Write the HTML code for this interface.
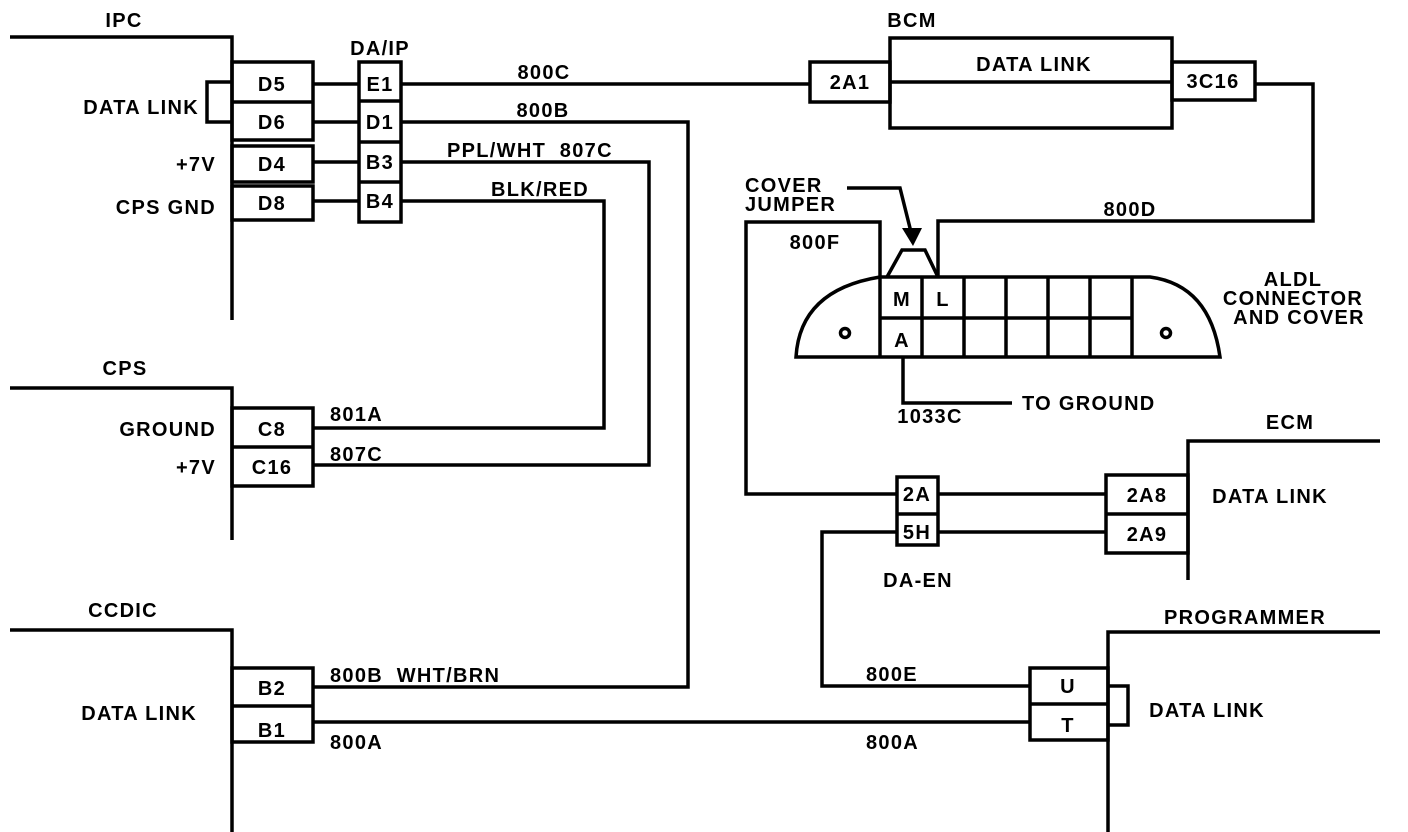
<!DOCTYPE html>
<html><head><style>
html,body{margin:0;padding:0;background:#fff;}
svg{display:block;}
text{font-family:"Liberation Sans",Arial,sans-serif;font-weight:bold;font-size:20px;letter-spacing:1.3px;fill:#000;}
.e{text-anchor:end;}
.m{text-anchor:middle;}
</style></head><body>
<svg width="1408" height="832" viewBox="0 0 1408 832" xmlns="http://www.w3.org/2000/svg">
<g fill="none" stroke="#000" stroke-width="3.5">
<polyline points="10,37 232,37 232,320"/>
<rect x="232" y="62" width="81" height="78"/>
<line x1="232" y1="102" x2="313" y2="102"/>
<rect x="232" y="146" width="81" height="36"/>
<rect x="232" y="186" width="81" height="34"/>
<polyline points="232,82 207,82 207,122 232,122"/>
<rect x="359" y="62" width="42" height="160"/>
<line x1="359" y1="101" x2="401" y2="101"/>
<line x1="359" y1="142" x2="401" y2="142"/>
<line x1="359" y1="182" x2="401" y2="182"/>
<line x1="313" y1="84" x2="359" y2="84"/>
<line x1="313" y1="122" x2="359" y2="122"/>
<line x1="313" y1="162" x2="359" y2="162"/>
<line x1="313" y1="201" x2="359" y2="201"/>
<line x1="401" y1="84" x2="810" y2="84"/>
<polyline points="401,122 688,122 688,687 313,687"/>
<polyline points="401,162 649,162 649,465 313,465"/>
<polyline points="401,201 604,201 604,428 313,428"/>
<polyline points="10,388 232,388 232,540"/>
<rect x="232" y="408" width="81" height="78"/>
<line x1="232" y1="447" x2="313" y2="447"/>
<polyline points="10,630 232,630 232,832"/>
<rect x="232" y="668" width="81" height="74"/>
<line x1="232" y1="706" x2="313" y2="706"/>
<line x1="313" y1="722" x2="1030" y2="722"/>
<rect x="890" y="38" width="282" height="90"/>
<rect x="810" y="62" width="80" height="40"/>
<rect x="1172" y="62" width="83" height="38"/>
<line x1="890" y1="82" x2="1172" y2="82"/>
<polyline points="1255,84 1313,84 1313,221 938,221 938,277"/>
<path d="M796,357 Q800,290 880,277 L1150,277 Q1210,285 1220,357 Z"/>
<line x1="880" y1="277" x2="880" y2="357"/>
<line x1="922" y1="277" x2="922" y2="357"/>
<line x1="964" y1="277" x2="964" y2="357"/>
<line x1="1006" y1="277" x2="1006" y2="357"/>
<line x1="1048" y1="277" x2="1048" y2="357"/>
<line x1="1090" y1="277" x2="1090" y2="357"/>
<line x1="1132" y1="277" x2="1132" y2="357"/>
<line x1="880" y1="318" x2="1132" y2="318"/>
<circle cx="845" cy="333" r="4.5"/>
<circle cx="1166" cy="333" r="4.5"/>
<polyline points="887,277 902,250 925,250 938,277"/>
<polyline points="847,188 900,188 912,236"/>
<polyline points="880,277 880,222 746,222 746,494 897,494"/>
<polyline points="903,357 903,403 1012,403"/>
<rect x="897" y="477" width="41" height="68"/>
<line x1="897" y1="514" x2="938" y2="514"/>
<line x1="938" y1="494" x2="1106" y2="494"/>
<line x1="938" y1="532" x2="1106" y2="532"/>
<polyline points="897,532 822,532 822,686 1030,686"/>
<polyline points="1380,441 1188,441 1188,580"/>
<rect x="1106" y="475" width="82" height="78"/>
<line x1="1106" y1="514" x2="1188" y2="514"/>
<polyline points="1380,632 1108,632 1108,832"/>
<rect x="1030" y="668" width="78" height="72"/>
<line x1="1030" y1="704" x2="1108" y2="704"/>
<polyline points="1108,686 1128,686 1128,725 1108,725"/>
</g>
<polygon points="902,228 922,228 913,246" fill="#000"/>
<text x="124" y="27" class="m">IPC</text>
<text x="380" y="55" class="m" font-size="18">DA/IP</text>
<text x="199" y="114" class="e">DATA LINK</text>
<text x="216" y="171" class="e">+7V</text>
<text x="216" y="214" class="e">CPS GND</text>
<text x="272" y="91" class="m">D5</text>
<text x="272" y="129" class="m">D6</text>
<text x="272" y="171" class="m">D4</text>
<text x="272" y="210" class="m">D8</text>
<text x="380" y="91" class="m">E1</text>
<text x="380" y="129" class="m">D1</text>
<text x="380" y="169" class="m">B3</text>
<text x="380" y="208" class="m">B4</text>
<text x="544" y="79" class="m">800C</text>
<text x="543" y="117" class="m">800B</text>
<text x="447" y="157">PPL/WHT&#160;&#160;807C</text>
<text x="540" y="196" class="m">BLK/RED</text>
<text x="125" y="375" class="m">CPS</text>
<text x="216" y="436" class="e">GROUND</text>
<text x="216" y="474" class="e">+7V</text>
<text x="272" y="436" class="m">C8</text>
<text x="272" y="474" class="m">C16</text>
<text x="330" y="421">801A</text>
<text x="330" y="461">807C</text>
<text x="123" y="617" class="m">CCDIC</text>
<text x="197" y="720" class="e">DATA LINK</text>
<text x="272" y="695" class="m">B2</text>
<text x="272" y="737" class="m">B1</text>
<text x="330" y="682">800B&#160;&#160;WHT/BRN</text>
<text x="330" y="749">800A</text>
<text x="866" y="749">800A</text>
<text x="866" y="681">800E</text>
<text x="912" y="27" class="m">BCM</text>
<text x="1034" y="71" class="m">DATA LINK</text>
<text x="850" y="89" class="m">2A1</text>
<text x="1213" y="88" class="m">3C16</text>
<text x="745" y="192">COVER</text>
<text x="745" y="211">JUMPER</text>
<text x="1130" y="216" class="m">800D</text>
<text x="815" y="249" class="m">800F</text>
<text x="1293" y="286" class="m">ALDL</text>
<text x="1293" y="305" class="m">CONNECTOR</text>
<text x="1299" y="306" class="m" dy="0"></text>
<text x="1299" y="306"></text>
<text x="1299" y="324" class="m">AND COVER</text>
<text x="902" y="306" class="m">M</text>
<text x="943" y="306" class="m">L</text>
<text x="902" y="347" class="m">A</text>
<text x="1022" y="410">TO GROUND</text>
<text x="930" y="423" class="m">1033C</text>
<text x="917" y="501" class="m">2A</text>
<text x="917" y="539" class="m">5H</text>
<text x="918" y="587" class="m">DA-EN</text>
<text x="1147" y="502" class="m">2A8</text>
<text x="1147" y="541" class="m">2A9</text>
<text x="1290" y="429" class="m">ECM</text>
<text x="1270" y="503" class="m">DATA LINK</text>
<text x="1245" y="624" class="m">PROGRAMMER</text>
<text x="1068" y="693" class="m">U</text>
<text x="1068" y="732" class="m">T</text>
<text x="1207" y="717" class="m">DATA LINK</text>
</svg>
</body></html>
